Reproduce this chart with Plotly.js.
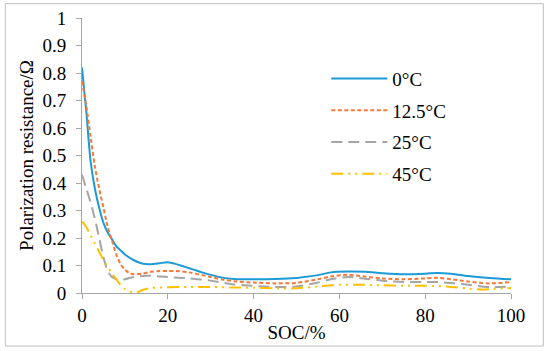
<!DOCTYPE html>
<html><head><meta charset="utf-8">
<script src="https://cdn.plot.ly/plotly-3.0.1.min.js"></script>
<style>html,body{margin:0;padding:0;background:#fff}#chart{width:550px;height:351px}</style>
</head><body><div id="chart"></div>
<script>
const seriesNames = ["0°C", "12.5°C", "25°C", "45°C"];

const soc0 = [0,1,2,3,4,5,6,7,8,9,10,12,14,16,18,20,22,24,26,28,30,33,36,40,45,50,55,58,62,66,70,75,80,83,86,90,95,100];
const r0 = [0.82,0.66,0.48,0.38,0.31,0.255,0.22,0.195,0.17,0.155,0.14,0.12,0.107,0.105,0.108,0.112,0.105,0.095,0.085,0.075,0.066,0.055,0.05,0.05,0.051,0.055,0.065,0.075,0.078,0.077,0.072,0.068,0.07,0.073,0.07,0.062,0.055,0.05];

const soc125 = [0,1,2,3,4,5,6,7,8,9,10,11,12,14,16,18,20,22,25,28,30,33,36,40,45,50,55,58,62,66,70,75,80,83,86,90,95,100];
const r125 = [0.77,0.68,0.57,0.46,0.38,0.31,0.24,0.19,0.14,0.105,0.085,0.073,0.068,0.07,0.077,0.08,0.08,0.08,0.075,0.065,0.058,0.048,0.042,0.038,0.035,0.037,0.05,0.06,0.066,0.06,0.053,0.05,0.053,0.055,0.05,0.042,0.035,0.04];

const soc25 = [0,1,2,3,4,5,6,7,8,9,10,12,15,20,25,30,35,40,45,50,55,58,62,66,70,75,80,83,87,90,95,100];
const r25 = [0.43,0.38,0.33,0.27,0.2,0.13,0.08,0.058,0.05,0.048,0.05,0.058,0.063,0.058,0.053,0.045,0.032,0.026,0.022,0.024,0.038,0.05,0.058,0.052,0.045,0.04,0.04,0.04,0.035,0.03,0.022,0.024];

const soc45 = [0,1,2,3,4,5,6,7,8,9,10,11,12,13,14,16,20,25,30,35,40,45,50,55,60,65,70,75,80,85,90,93,96,100];
const r45 = [0.26,0.24,0.21,0.18,0.15,0.12,0.095,0.07,0.05,0.03,0.015,0.006,0.002,0.003,0.01,0.018,0.021,0.022,0.022,0.02,0.019,0.017,0.017,0.024,0.03,0.03,0.028,0.026,0.026,0.024,0.016,0.013,0.015,0.018];

const xTicks = [0,20,40,60,80,100];
const yTicks = [0,0.1,0.2,0.3,0.4,0.5,0.6,0.7,0.8,0.9,1];
const yTickText = ["0","0.1","0.2","0.3","0.4","0.5","0.6","0.7","0.8","0.9","1"];

const colors = ["#1b9ad6", "#f4793b", "#a5a5a5", "#ffc000"];
const dashes = ["solid", "4px,2.5px", "11px,6px", "12px,5px,2px,5px,2px,5px"];
const xs = [soc0, soc125, soc25, soc45];
const ys = [r0, r125, r25, r45];

const traces = seriesNames.map((n, i) => ({
  x: xs[i], y: ys[i], name: n, type: "scatter", mode: "lines",
  legendgroup: "g" + i,
  line: {color: colors[i], width: 2, dash: dashes[i], shape: "spline", smoothing: 0.8}
}));

const font = {family: "'Times New Roman', 'Liberation Serif', serif", size: 19, color: "#000"};
const W = 550, H = 351;
const m = {l: 81.7, r: 39.3, t: 18.3, b: 58};
const pw = W - m.l - m.r, ph = H - m.t - m.b;
const px = v => (v - m.l) / pw;
const py = v => (H - m.b - v) / ph;

const layout = {
  width: W, height: H,
  margin: m,
  paper_bgcolor: "#fff", plot_bgcolor: "#fff",
  font: font,
  showlegend: true,
  legend: {x: px(326), y: py(60), xanchor: "left", yanchor: "top",
    font: font, bgcolor: "rgba(0,0,0,0)", tracegroupgap: 4, itemwidth: 56},
  xaxis: {range: [0, 100], tickvals: xTicks, ticktext: xTicks.map(String),
    showgrid: false, zeroline: false, showline: true, linecolor: "#a6a6a6", linewidth: 1,
    ticks: "outside", ticklen: 5, tickcolor: "#a6a6a6", tickfont: font,
    title: {text: "SOC/%", font: font, standoff: 0}},
  yaxis: {range: [0, 1], tickvals: yTicks, ticktext: yTickText,
    showgrid: false, zeroline: false, showline: true, linecolor: "#a6a6a6", linewidth: 1,
    ticks: "outside", ticklen: 5, tickcolor: "#a6a6a6", tickfont: font, ticklabelstandoff: 6,
    title: {text: "Polarization resistance/Ω", font: font, standoff: 3}},
  shapes: [{type: "rect", xref: "paper", yref: "paper",
    x0: px(5), x1: px(543), y0: py(346), y1: py(4),
    line: {color: "#bfbfbf", width: 1}, fillcolor: "rgba(0,0,0,0)", layer: "below"}]
};

Plotly.newPlot("chart", traces, layout, {displayModeBar: false, staticPlot: true});
</script>
</body></html>
